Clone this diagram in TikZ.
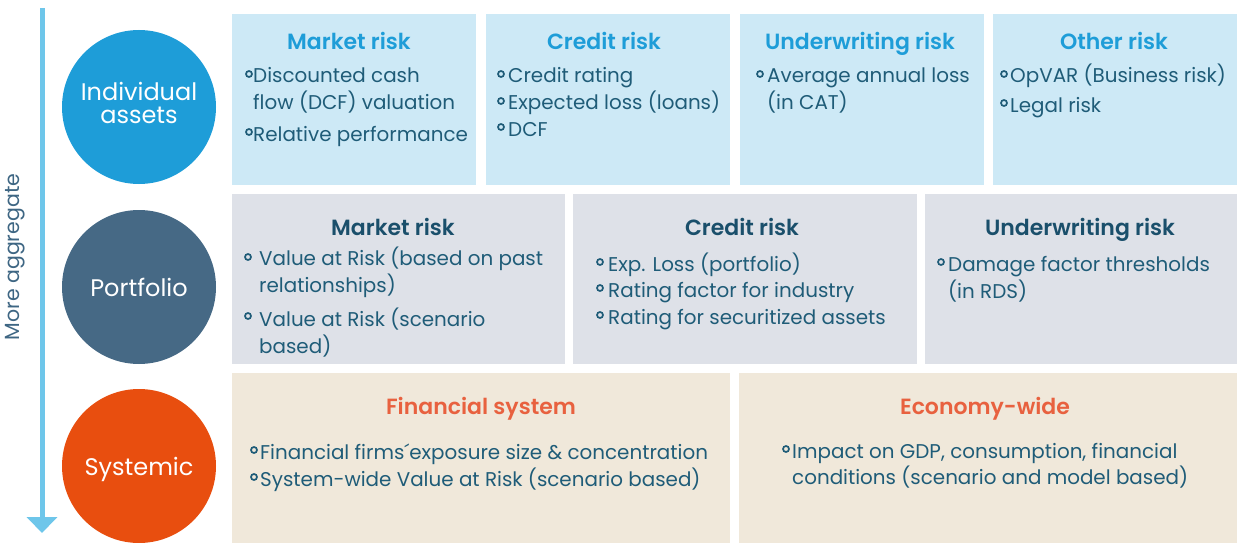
\documentclass[tikz,border=0pt]{standalone}
\usepackage{fontspec}
\setmainfont{Poppins}[BoldFont={Poppins SemiBold}]
\usetikzlibrary{arrows.meta}
\definecolor{arrowc}{HTML}{6EC6EA}
\definecolor{circA}{HTML}{1E9DD8}
\definecolor{circB}{HTML}{466985}
\definecolor{circC}{HTML}{E84E0F}
\definecolor{boxA}{HTML}{CDE9F6}
\definecolor{boxB}{HTML}{DEE1E8}
\definecolor{boxC}{HTML}{F0E8DA}
\definecolor{titA}{HTML}{1E9DD8}
\definecolor{titB}{HTML}{1A4F6B}
\definecolor{titC}{HTML}{E8613F}
\definecolor{txtc}{HTML}{1F5C78}
\definecolor{sidec}{HTML}{3E6683}
\tikzset{
  lvl/.style={circle, minimum size=154pt, inner sep=0pt, text=white, font=\fontsize{24}{26}\selectfont, align=center},
  ttl/.style={anchor=base, font=\fontsize{22}{24}\selectfont\bfseries, inner sep=0pt},
  ln/.style={anchor=base west, inner sep=0pt, text=txtc, font=\fontsize{19.9}{22}\selectfont},
  bul/.style={circle, draw=txtc, line width=1.7pt, inner sep=0pt, minimum size=6pt},
}
\begin{document}
\begin{tikzpicture}[x=1pt,y=-1pt]
\useasboundingbox (0,0) rectangle (1237,543);
% arrow
\coordinate (atop) at (42,8);
\coordinate (abot) at (42,533);
\draw[arrowc, line width=5pt, -{Triangle[width=30pt,length=16pt]}] (atop) -- (abot);
\node[rotate=90, text=sidec, font=\fontsize{20.5}{22}\selectfont, inner sep=0pt] (agg) at (15,257) {More aggregate};
% circles
\node[lvl, fill=circA] (c1) at (139,107) {\raisebox{3pt}{\begin{tabular}{@{}c@{}}Individual\\[-3pt]assets\end{tabular}}};
\node[lvl, fill=circB] (c2) at (139,287) {Portfolio};
\node[lvl, fill=circC, text depth=0pt] (c3) at (139,466) {Systemic};
% row 1 boxes
\fill[boxA] (232,14) rectangle (476,185);
\fill[boxA] (486,14) rectangle (730,185);
\fill[boxA] (740,14) rectangle (984,185);
\fill[boxA] (993,14) rectangle (1237,185);
% row 2 boxes
\fill[boxB] (232,194) rectangle (565,364);
\fill[boxB] (573,194) rectangle (917,364);
\fill[boxB] (925,194) rectangle (1237,364);
% row 3 boxes
\fill[boxC] (232,373) rectangle (730,543);
\fill[boxC] (739,373) rectangle (1237,543);
% titles
\node[ttl, text=titA] (t11) at (349,50) {Market risk};
\node[ttl, text=titA] (t12) at (604,50) {Credit risk};
\node[ttl, text=titA] (t13) at (860,50) {Underwriting risk};
\node[ttl, text=titA] (t14) at (1114,50) {Other risk};
\node[ttl, text=titB] (t21) at (393,235) {Market risk};
\node[ttl, text=titB] (t22) at (742,235) {Credit risk};
\node[ttl, text=titB] (t23) at (1080,235) {Underwriting risk};
\node[ttl, text=titC] (t31) at (481,414) {Financial system};
\node[ttl, text=titC] (t32) at (985,414) {Economy-wide};
% row 1 box 1
\node[bul] (b111) at (249,74) {};
\node[ln] (l111) at (253,83) {Discounted cash};
\node[ln] (l112) at (253,110) {flow (DCF) valuation};
\node[bul] (b112) at (249,132) {};
\node[ln] (l113) at (253,141) {Relative performance};
% row 1 box 2
\node[bul] (b121) at (501,74) {};
\node[ln] (l121) at (508,83) {Credit rating};
\node[bul] (b122) at (501,101) {};
\node[ln] (l122) at (508,110) {Expected loss (loans)};
\node[bul] (b123) at (501,127) {};
\node[ln] (l123) at (508,136) {DCF};
% row 1 box 3
\node[bul] (b131) at (760,74) {};
\node[ln] (l131) at (767,83) {Average annual loss};
\node[ln] (l132) at (767,110) {(in CAT)};
% row 1 box 4
\node[bul] (b141) at (1004,74) {};
\node[ln] (l141) at (1010,83) {OpVAR (Business risk)};
\node[bul] (b142) at (1004,103) {};
\node[ln] (l142) at (1010,112) {Legal risk};
% row 2 box 1
\node[bul] (b211) at (248,257) {};
\node[ln] (l211) at (259,265) {Value at Risk (based on past};
\node[ln] (l212) at (259,292) {relationships)};
\node[bul] (b212) at (248,316) {};
\node[ln] (l213) at (259,326) {Value at Risk (scenario};
\node[ln] (l214) at (259,353) {based)};
% row 2 box 2
\node[bul] (b221) at (600,262) {};
\node[ln] (l221) at (608,271) {Exp. Loss (portfolio)};
\node[bul] (b222) at (600,288) {};
\node[ln] (l222) at (608,297) {Rating factor for industry};
\node[bul] (b223) at (600,315) {};
\node[ln] (l223) at (608,324) {Rating for securitized assets};
% row 2 box 3
\node[bul] (b231) at (941,262) {};
\node[ln] (l231) at (948,271) {Damage factor thresholds};
\node[ln] (l232) at (948,298) {(in RDS)};
% row 3 box 1
\node[bul] (b311) at (254,450) {};
\node[ln] (l311) at (260,459) {Financial firms´exposure size \& concentration};
\node[bul] (b312) at (254,477) {};
\node[ln] (l312) at (260,486) {System-wide Value at Risk (scenario based)};
% row 3 box 2
\node[bul] (b321) at (786,449) {};
\node[ln] (l321) at (792,458) {Impact on GDP, consumption, financial};
\node[ln] (l322) at (792,484) {conditions (scenario and model based)};
\end{tikzpicture}
\end{document}
